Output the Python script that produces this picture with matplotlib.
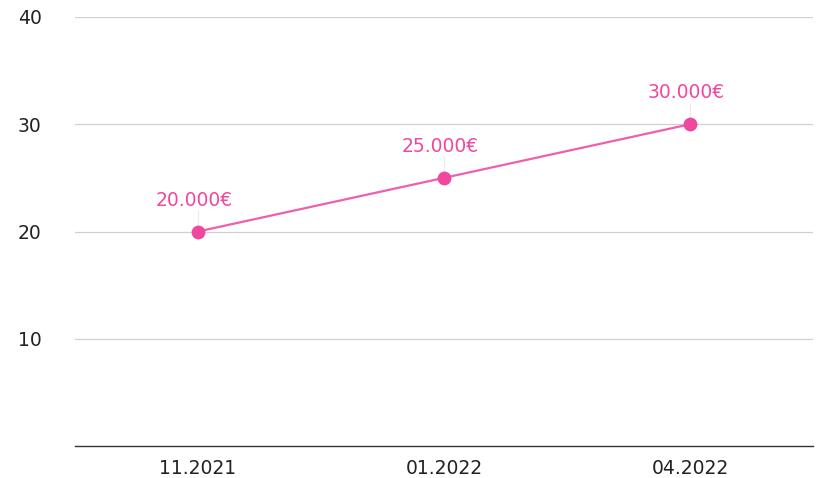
import matplotlib.pyplot as plt

categories = ['11.2021', '01.2022', '04.2022']
values = [20, 25, 30]
labels = ['20.000€', '25.000€', '30.000€']
yticks = [10, 20, 30, 40]

pink = '#f0489f'
line_pink = '#ee5fae'

plt.rcParams['font.family'] = ['DejaVu Sans']

fig = plt.figure(figsize=(8.17, 4.78), dpi=100)
ax = fig.add_axes([75 / 817, 32 / 478, 738 / 817, 429 / 478])

x = list(range(len(categories)))
ax.plot(x, values, color=line_pink, linewidth=1.6, zorder=3)
ax.scatter(x, values, s=80, color=pink, zorder=4)

for xi, v, lab in zip(x, values, labels):
    ax.annotate(lab, (xi, v), xytext=(-3, 22.5), textcoords='offset points',
                ha='center', va='center', color=pink, fontsize=13.5)
    ax.plot([xi, xi], [v, v + 1.9], color='#ececec', linewidth=0.8, zorder=2)

ax.set_xlim(-0.5, len(categories) - 0.5)
ax.set_ylim(0, 40)
ax.set_yticks(yticks)
ax.set_yticklabels([str(t) for t in yticks])
ax.set_xticks(x)
ax.set_xticklabels(categories)
ax.grid(axis='y', color='#d0d0d0', linewidth=0.9)
ax.set_axisbelow(True)
ax.tick_params(axis='y', length=0, pad=24, labelsize=13.5, colors='#222222')
ax.tick_params(axis='x', length=0, pad=9, labelsize=13.5, colors='#222222')
for side in ['top', 'right', 'left']:
    ax.spines[side].set_visible(False)
ax.spines['bottom'].set_color('#333333')
ax.spines['bottom'].set_linewidth(1.0)

fig.savefig('out.png', dpi=100)
